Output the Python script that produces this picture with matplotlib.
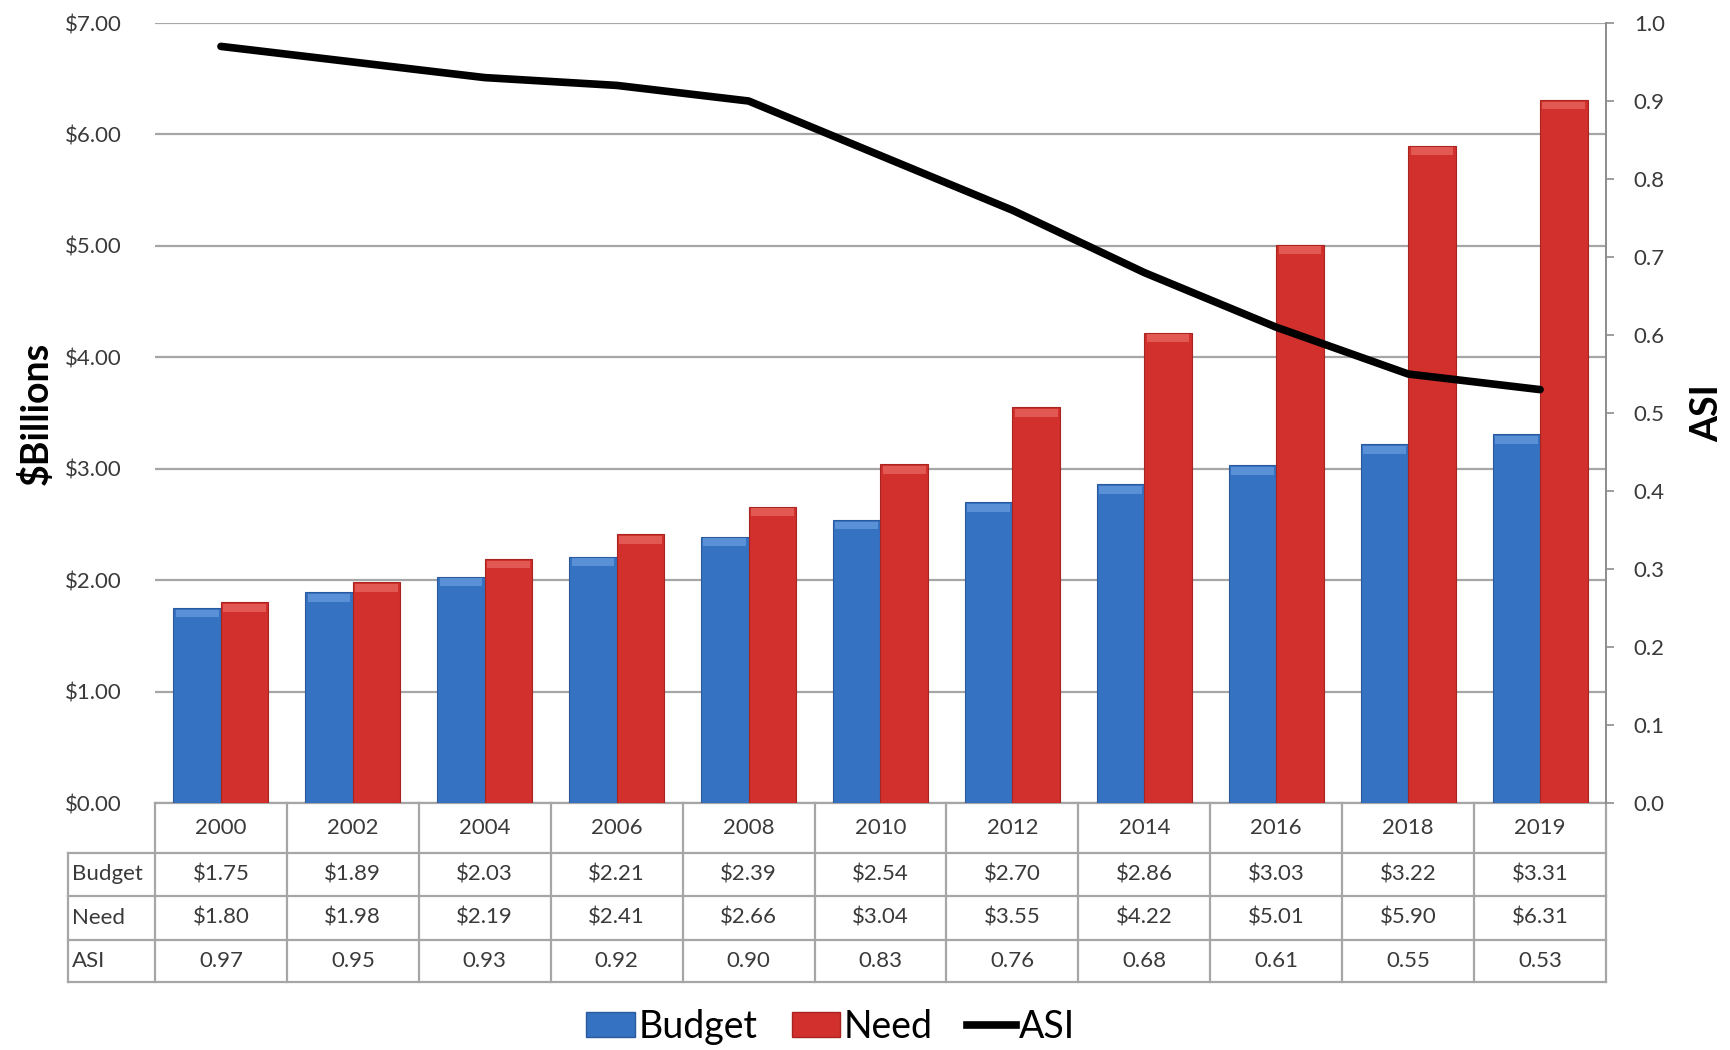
import numpy as np
import matplotlib.pyplot as plt
from matplotlib.patches import Patch
from matplotlib.lines import Line2D
from matplotlib.transforms import blended_transform_factory

plt.rcParams['font.family'] = ['Lato', 'DejaVu Sans']

# data
years = ['2000', '2002', '2004', '2006', '2008', '2010', '2012', '2014', '2016', '2018', '2019']
budget = [1.75, 1.89, 2.03, 2.21, 2.39, 2.54, 2.70, 2.86, 3.03, 3.22, 3.31]
need = [1.80, 1.98, 2.19, 2.41, 2.66, 3.04, 3.55, 4.22, 5.01, 5.90, 6.31]
asi = [0.97, 0.95, 0.93, 0.92, 0.90, 0.83, 0.76, 0.68, 0.61, 0.55, 0.53]

blue = '#3572c2'
blue_top = '#7aaae6'
red = '#d2302c'
red_top = '#f07a72'
grid_col = '#a6a6a6'
text_col = '#3a3a3a'

fig = plt.figure(figsize=(17.31, 10.5), dpi=100)
ax = fig.add_axes([155 / 1731, 1 - 803 / 1050, (1606 - 155) / 1731, 780 / 1050])
ax2 = ax.twinx()

x = np.arange(len(years))
w = 0.36

ax.bar(x - w / 2, budget, w, color=blue, edgecolor='#2a5a9c', linewidth=0.8, zorder=3)
ax.bar(x + w / 2, need, w, color=red, edgecolor='#a82420', linewidth=0.8, zorder=3)
# soft bevel on bar tops
cap = 0.07
ax.bar(x - w / 2, [cap] * len(x), w * 0.9, bottom=np.array(budget) - cap - 0.015,
       color=blue_top, linewidth=0, zorder=4, alpha=0.55)
ax.bar(x + w / 2, [cap] * len(x), w * 0.9, bottom=np.array(need) - cap - 0.015,
       color=red_top, linewidth=0, zorder=4, alpha=0.55)

ax.set_xlim(-0.5, len(years) - 0.5)
ax.set_ylim(0, 7)
ax.set_yticks(np.arange(0, 8, 1))
ax.set_yticklabels(['${:.2f}'.format(v) for v in range(8)])
ax.yaxis.grid(True, color=grid_col, linewidth=1.6, zorder=0)
ax.set_axisbelow(True)
ax.set_xticks([])
ax.tick_params(axis='y', length=0, pad=24, labelsize=16, labelcolor=text_col)
for s in ['left', 'top', 'bottom', 'right']:
    ax.spines[s].set_visible(False)
ax.set_ylabel('$Billions', fontsize=27, fontweight='bold', labelpad=8)

ax2.plot(x, asi, color='black', linewidth=5.5, solid_capstyle='round', zorder=5)
ax2.set_ylim(0, 1)
ax2.set_yticks(np.arange(0, 1.01, 0.1))
ax2.set_yticklabels(['{:.1f}'.format(v) for v in np.arange(0, 1.01, 0.1)])
ax2.tick_params(axis='y', direction='out', length=6, width=1.2, color='#8c8c8c',
                pad=14, labelsize=16, labelcolor=text_col)
for s in ['left', 'top', 'bottom']:
    ax2.spines[s].set_visible(False)
ax2.spines['right'].set_color('#8c8c8c')
ax2.spines['right'].set_linewidth(1.4)
ax2.set_ylabel('ASI', fontsize=27, fontweight='bold', labelpad=18)

# data table under the plot
tr = blended_transform_factory(ax.transData, ax.transAxes)
ah = 780.0
rows = [0, -50 / ah, -93 / ah, -137 / ah, -179 / ah]
lab_left = -0.5 - 87 / 132.0
n = len(years)
lk = dict(color=grid_col, linewidth=1.6, transform=tr, clip_on=False)
ax.plot([-0.5, n - 0.5], [rows[0], rows[0]], **lk)
for r in rows[1:]:
    ax.plot([lab_left, n - 0.5], [r, r], **lk)
for i in range(n + 1):
    ax.plot([i - 0.5, i - 0.5], [rows[0], rows[-1]], **lk)
ax.plot([lab_left, lab_left], [rows[1], rows[-1]], **lk)

row_vals = [['${:.2f}'.format(v) for v in budget],
            ['${:.2f}'.format(v) for v in need],
            ['{:.2f}'.format(v) for v in asi]]
row_names = ['Budget', 'Need', 'ASI']
tk = dict(transform=tr, fontsize=16, color=text_col, va='center', clip_on=False)
for i, yr in enumerate(years):
    ax.text(i, (rows[0] + rows[1]) / 2, yr, ha='center', **tk)
for j, name in enumerate(row_names):
    yc = (rows[j + 1] + rows[j + 2]) / 2
    ax.text(lab_left + 0.03, yc, name, ha='left', **tk)
    for i in range(n):
        ax.text(i, yc, row_vals[j][i], ha='center', **tk)

handles = [Patch(facecolor=blue, edgecolor='#2a5a9c'),
           Patch(facecolor=red, edgecolor='#a82420'),
           Line2D([0], [0], color='black', linewidth=5.5)]
fig.legend(handles, ['Budget', 'Need', 'ASI'], loc='center', bbox_to_anchor=(0.48, 0.022),
           ncol=3, frameon=False, fontsize=27, handlelength=1.3, handleheight=0.65,
           handletextpad=0.1, columnspacing=0.9)

fig.savefig('out.png', dpi=100)
